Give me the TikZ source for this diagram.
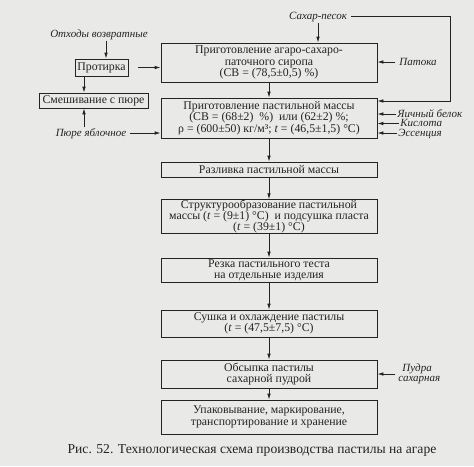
\documentclass[tikz,border=0pt]{standalone}
\usepackage{fontspec}
\setmainfont{Liberation Serif}
\usetikzlibrary{arrows.meta}
\definecolor{bg}{RGB}{233,233,231}
\definecolor{ink}{RGB}{35,35,35}
\begin{document}
\begin{tikzpicture}[x=1pt,y=-1pt, line width=0.8pt, draw=ink, text=ink,
  box/.style={draw=ink, inner sep=0pt, minimum width=216pt, align=center, font=\fontsize{11.8}{11.3}\selectfont},
  sbox/.style={draw=ink, inner sep=0pt, font=\fontsize{11.8}{11.3}\selectfont},
  lbl/.style={font=\fontsize{11}{10}\selectfont\itshape, inner sep=0pt, text height=7pt, text depth=0.5pt},
  arr/.style={draw=ink, -{Latex[length=6pt,width=3.6pt]}},
]
\fill[bg] (0,0) rectangle (474,466);
\useasboundingbox (0,0) rectangle (474,466);

% main column
\node[box, minimum height=39pt] (b1) at (269,62.5) {Приготовление агаро-сахаро-\\паточного сиропа\\(СВ = (78,5±0,5) \%)};
\node[box, minimum height=40pt] (b2) at (269,118) {Приготовление пастильной массы\\(СВ = (68±2)~~\%)~~или (62±2) \%;\\ρ = (600±50) кг/м³; \textit{t} = (46,5±1,5) °C)};
\node[box, minimum height=15pt] (b3) at (269,169.5) {Разливка пастильной массы};
\node[box, minimum height=33pt] (b4) at (269,216.5) {Структурообразование пастильной\\массы (\textit{t} = (9±1) °C)~ и подсушка пласта\\(\textit{t} = (39±1) °C)};
\node[box, minimum height=24pt] (b5) at (269,270) {Резка пастильного теста\\на отдельные изделия};
\node[box, minimum height=27pt] (b6) at (269,323.5) {Сушка и охлаждение пастилы\\(\textit{t} = (47,5±7,5) °C)};
\node[box, minimum height=28pt] (b7) at (269,374) {Обсыпка пастилы\\сахарной пудрой};
\node[box, minimum height=34pt] (b8) at (269,417) {Упаковывание, маркирование,\\транспортирование и хранение};

\foreach \a/\b in {b1/b2,b2/b3,b3/b4,b4/b5,b5/b6,b6/b7,b7/b8}
  \draw[arr] (\a.south) -- (\b.north);

% left side
\node[lbl] (otx) at (99,34) {Отходы возвратные};
\node[sbox, minimum width=53pt, minimum height=17pt] (prot) at (101.5,67.5) {Протирка};
\node[sbox, minimum width=109pt, minimum height=15pt] (mix) at (93.5,100.5) {Смешивание с пюре};
\node[lbl] (pure) at (91,133) {Пюре яблочное};
\coordinate (xa) at (106,0);
\coordinate (xb) at (84,0);
\draw[arr] ([yshift=-2.5pt]otx.south -| xa) -- (prot.north -| xa);
\draw[arr] ([yshift=1.5pt]pure.north -| xb) -- (mix.south -| xb);
\draw[arr] (prot.south -| xb) -- (mix.north -| xb);
\draw[arr] ([xshift=10pt]prot.east) -- (b1.west |- prot.east);
\draw[arr] ([xshift=3pt]pure.east) -- (b2.west |- pure.east);

% right side
\node[lbl] (sugar) at (318,16) {Сахар-песок};
\coordinate (c1) at (450,16);
\coordinate (c2) at (450,101);
\draw[arr] ([xshift=4pt]sugar.east) -- (c1) -- (c2) -- (b2.east |- c2);
\draw[arr] ([yshift=-3pt]sugar.south) -- (b1.north -| sugar.south);
\node[lbl, anchor=west] (patoka) at (399,62) {Патока};
\node[lbl, anchor=west] (egg) at (397,114) {Яичный белок};
\node[lbl, anchor=west] (acid) at (400,123.5) {Кислота};
\node[lbl, anchor=west] (ess) at (398,133) {Эссенция};
\node[lbl, anchor=west, align=left, text height=, text depth=] (pudra) at (398,374) {\hspace*{4pt}Пудра\\сахарная};
\draw[arr] ([xshift=-4pt]patoka.west) -- (b1.east |- patoka.west);
\draw[arr] ([xshift=-1pt]egg.west) -- (b2.east |- egg.west);
\draw[arr] ([xshift=-1pt]acid.west) -- (b2.east |- acid.west);
\draw[arr] ([xshift=-1pt]ess.west) -- (b2.east |- ess.west);
\draw[arr] ([xshift=-3pt]pudra.west) -- (b7.east |- pudra.west);

% caption
\node[font=\fontsize{13.6}{15}\selectfont, text=ink] (cap) at (252,450) {Рис. 52. Технологическая схема производства пастилы на агаре};
\end{tikzpicture}
\end{document}
